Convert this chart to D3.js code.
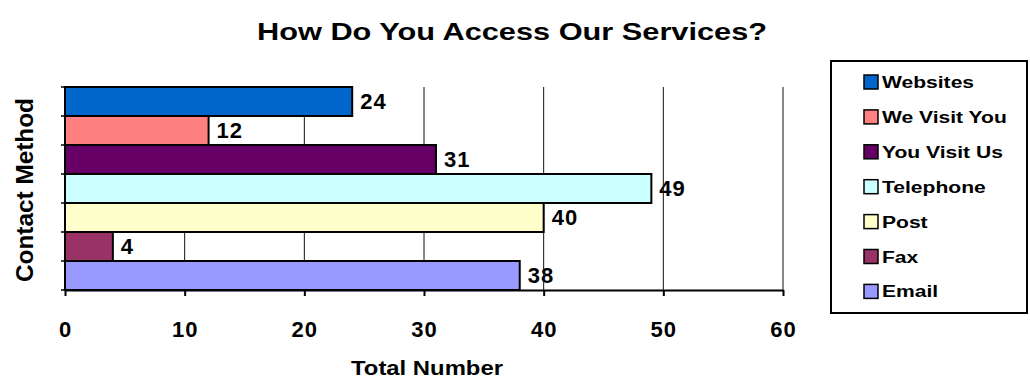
<!DOCTYPE html>
<html>
<head>
<meta charset="utf-8">
<script src="https://cdn.jsdelivr.net/npm/d3@7"></script>
<style>
  html, body { margin: 0; padding: 0; background: #fff; }
  svg { display: block; font-family: Arial, "Liberation Sans", sans-serif; }
</style>
</head>
<body>
<svg id="chart" width="1030" height="381"></svg>
<script>
// Contact methods, in drawing order (top to bottom)
const categories = ["Websites", "We Visit You", "You Visit Us", "Telephone", "Post", "Fax", "Email"];
const values = [24, 12, 31, 49, 40, 4, 38];
const colors = ["#0066CC", "#FF8080", "#660066", "#CCFFFF", "#FFFFCC", "#993366", "#9999FF"];
const xTicks = [0, 10, 20, 30, 40, 50, 60];

const svg = d3.select("#chart");
const margin = { left: 65, right: 247, top: 87, bottom: 91 };
const W = 1030, H = 381;
const innerW = W - margin.left - margin.right;
const innerH = H - margin.top - margin.bottom;

const x = d3.scaleLinear().domain([0, 60]).range([0, innerW]);
const y = d3.scaleBand().domain(categories).range([0, innerH]).padding(0);

const g = svg.append("g").attr("transform", `translate(${margin.left},${margin.top})`);

// Value labels (drawn first so gridlines pass over them)
g.selectAll("text.val")
  .data(categories)
  .join("text")
  .attr("class", "val")
  .attr("x", (d, i) => x(values[i]) + 8)
  .attr("y", (d) => y(d) + y.bandwidth() / 2 + 7)
  .attr("font-size", 22)
  .attr("font-weight", "bold")
  .attr("letter-spacing", 1)
  .attr("fill", "#000")
  .text((d, i) => values[i]);

// Vertical gridlines
g.selectAll("line.grid")
  .data(xTicks.filter(t => t > 0))
  .join("line")
  .attr("class", "grid")
  .attr("x1", d => x(d)).attr("x2", d => x(d))
  .attr("y1", 0).attr("y2", innerH)
  .attr("stroke", "#111")
  .attr("stroke-width", 1);

// Bars
g.selectAll("rect.bar")
  .data(categories)
  .join("rect")
  .attr("class", "bar")
  .attr("x", 0)
  .attr("y", d => y(d))
  .attr("width", (d, i) => x(values[i]))
  .attr("height", y.bandwidth())
  .attr("fill", (d, i) => colors[i])
  .attr("stroke", "#000")
  .attr("stroke-width", 2);

// Category axis (ticks at band boundaries, no labels)
const yAxis = g.append("g");
yAxis.append("line")
  .attr("x1", 0).attr("x2", 0).attr("y1", 0).attr("y2", innerH)
  .attr("stroke", "#000").attr("stroke-width", 2);
yAxis.selectAll("line.tick")
  .data(d3.range(categories.length + 1))
  .join("line")
  .attr("class", "tick")
  .attr("x1", -4).attr("x2", 0)
  .attr("y1", i => i * y.bandwidth()).attr("y2", i => i * y.bandwidth())
  .attr("stroke", "#000").attr("stroke-width", 1.5);

// Value axis
const xAxis = g.append("g")
  .attr("transform", `translate(0,${innerH})`)
  .call(d3.axisBottom(x).tickValues(xTicks).tickSize(6).tickSizeOuter(0));
xAxis.select(".domain").attr("stroke", "#000").attr("stroke-width", 2);
xAxis.selectAll(".tick line").attr("stroke", "#000").attr("stroke-width", 2);
xAxis.selectAll(".tick text")
  .attr("y", 47)
  .attr("dy", 0)
  .attr("font-size", 22)
  .attr("font-weight", "bold")
  .attr("letter-spacing", 1)
  .attr("font-family", "Arial, 'Liberation Sans', sans-serif")
  .attr("fill", "#000");

// Title
svg.append("text")
  .attr("x", 257).attr("y", 40)
  .attr("font-size", 24)
  .attr("font-weight", "bold")
  .attr("textLength", 510)
  .attr("lengthAdjust", "spacingAndGlyphs")
  .text("How Do You Access Our Services?");

// Axis titles
svg.append("text")
  .attr("x", 351).attr("y", 375)
  .attr("font-size", 21)
  .attr("font-weight", "bold")
  .attr("textLength", 152)
  .attr("lengthAdjust", "spacingAndGlyphs")
  .text("Total Number");

svg.append("text")
  .attr("transform", "translate(33,282) rotate(-90)")
  .attr("font-size", 23)
  .attr("font-weight", "bold")
  .attr("textLength", 184)
  .attr("lengthAdjust", "spacingAndGlyphs")
  .text("Contact Method");

// Legend
const legend = svg.append("g").attr("transform", "translate(831,61)");
legend.append("rect")
  .attr("x", 0).attr("y", 0)
  .attr("width", 196).attr("height", 252)
  .attr("fill", "#fff")
  .attr("stroke", "#000")
  .attr("stroke-width", 2);

const items = legend.selectAll("g.item")
  .data(categories)
  .join("g")
  .attr("class", "item")
  .attr("transform", (d, i) => `translate(33,${21 + i * 34.9})`);
items.append("rect")
  .attr("x", 0).attr("y", -7)
  .attr("width", 14).attr("height", 14)
  .attr("fill", (d, i) => colors[i])
  .attr("stroke", "#000")
  .attr("stroke-width", 1.5);
items.append("text")
  .attr("transform", "translate(18,6) scale(1.24,1)")
  .attr("font-size", 17)
  .attr("font-weight", "bold")
  .text(d => d);
</script>
</body>
</html>
